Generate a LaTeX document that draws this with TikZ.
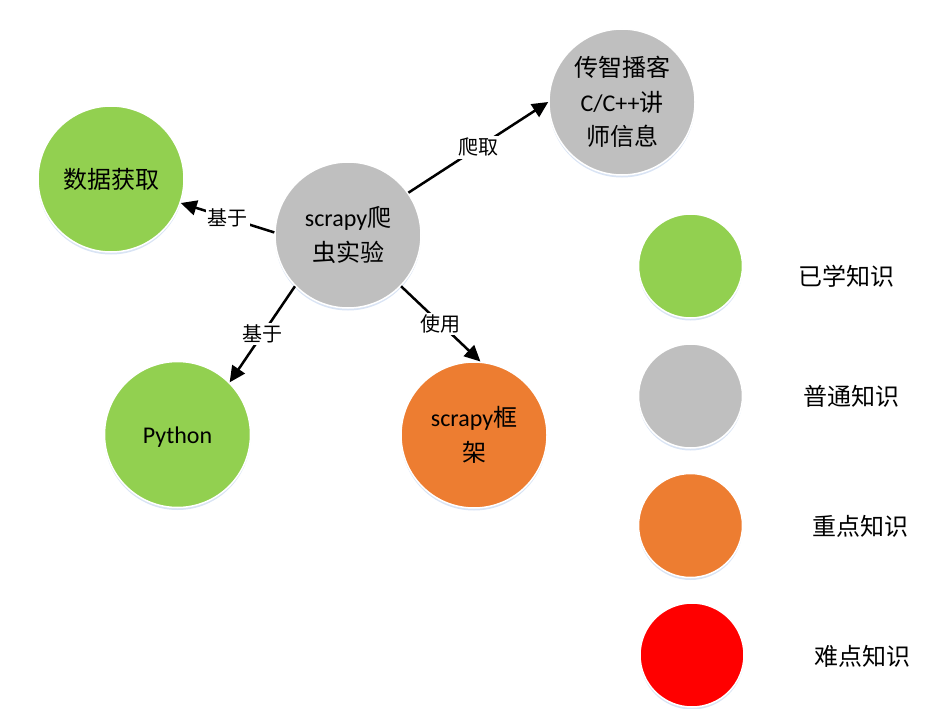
\documentclass[tikz,border=0pt]{standalone}
\usepackage{fontspec}
\setmainfont{Carlito}
\newfontfamily\cjk{Noto Sans CJK SC}
\usetikzlibrary{arrows.meta,shadows}
\definecolor{kgreen}{HTML}{92D050}
\definecolor{kgray}{HTML}{BFBFBF}
\definecolor{korange}{HTML}{ED7D31}
\definecolor{kred}{HTML}{FF0000}
\definecolor{kshadow}{HTML}{C9D8F0}
\begin{document}
\begin{tikzpicture}[x=1pt,y=-1pt,
 ball/.style={circle, draw=white, line width=1.5pt, inner sep=0pt, minimum size=146pt, align=center,
   font=\fontsize{24}{34.5}\selectfont,
   drop shadow={fill=kshadow, opacity=0.7, shadow xshift=0pt, shadow yshift=-2.5pt}},
 legball/.style={ball, minimum size=104pt},
 legtext/.style={font=\cjk\fontsize{24}{30}\selectfont},
 arr/.style={line width=2.5pt, -{Triangle[length=16pt,width=15pt]}},
 lab/.style={fill=white, inner sep=2pt, font=\cjk\fontsize{20}{24}\selectfont}]
\useasboundingbox (0,0) rectangle (926,709);

\node[ball, fill=kgray] (c) at (348,235) {scrapy{\cjk 爬}\\{\cjk 虫实验}};
\node[ball, fill=kgray] (t) at (622,102) {{\cjk 传智播客}\\C/C++{\cjk 讲}\\{\cjk 师信息}};
\node[ball, fill=kgreen] (d) at (111,179) {\cjk 数据获取};
\node[ball, fill=kgreen] (p) at (177.5,434.5) {\vphantom{Py}\smash{\raisebox{-3pt}{Python}}};
\node[ball, fill=korange] (f) at (474,435) {scrapy{\cjk 框}\\{\cjk 架}};

\draw[arr] (c.35) -- node[lab, pos=0.5] {爬取} (t.180);
\draw[arr] (c.178) -- node[lab, pos=0.5] {基于} (d.-19);
\draw[arr] (c.224) -- node[lab, pos=0.5] {基于} (p.45);
\draw[arr] (c.-44) -- node[lab, pos=0.5] {使用} (f.85);

\node[legball, fill=kgreen] (l1) at (690.5,266) {};
\node[legball, fill=kgray] (l2) at (690.5,396) {};
\node[legball, fill=korange] (l3) at (690.5,525.5) {};
\node[legball, fill=kred] (l4) at (692,655) {};
\node[legtext] (t1) at (846,276) {已学知识};
\node[legtext] (t2) at (851,396) {普通知识};
\node[legtext] (t3) at (860,526) {重点知识};
\node[legtext] (t4) at (862,656) {难点知识};
\end{tikzpicture}
\end{document}
